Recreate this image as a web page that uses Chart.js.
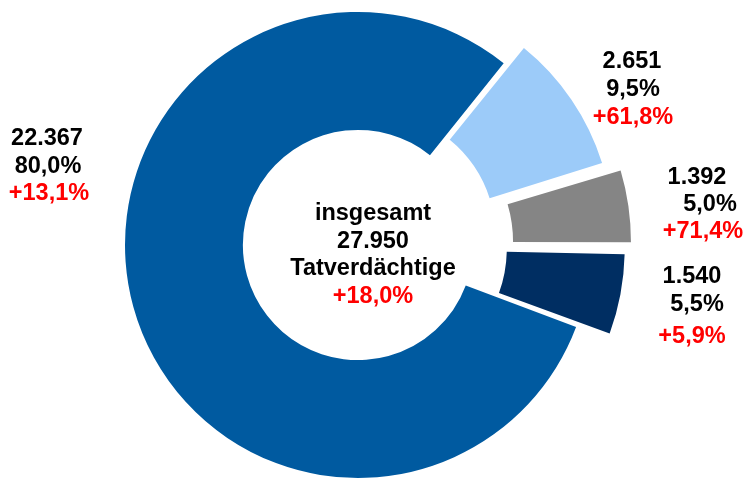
<!DOCTYPE html>
<html>
<head>
<meta charset="utf-8">
<script src="https://cdn.jsdelivr.net/npm/chart.js@4/dist/chart.umd.min.js"></script>
<style>
  html, body { margin: 0; padding: 0; background: #fff; overflow: hidden; }
  #wrap { width: 746px; height: 479px; }
</style>
</head>
<body>
<div id="wrap"><canvas id="pieChart" width="746" height="479"></canvas></div>
<script>
// Tatverdächtige nach Gruppen (Reihenfolge im Uhrzeigersinn ab dem hellblauen Segment)
const counts = [2651, 1392, 1540, 22367];
const changes = [61.8, 71.4, 5.9, 13.1];
const totalChange = 18.0;
const centerWords = ['insgesamt', 'Tatverdächtige'];

const colors = ['#9ccbf9', '#858585', '#002e62', '#005aa0'];
// Chart.js verschiebt nur um offset/4 (+ etwas radial), daher grosse Werte
const explode = [70, 95, 82, 0];

// Lage der Beschriftungen (Mitte x, Grundlinie y je Zeile)
const labelPos = [
  [[632, 68], [633, 96], [633, 124]],
  [[697, 184], [710, 211], [703, 238]],
  [[692, 283], [697, 311], [692, 343]],
  [[47, 145], [48, 173], [49, 200]]
];
const centerPos = [373, 220, 27.6];

const total = counts.reduce((a, b) => a + b, 0);
const fmtNum = n => String(n).replace(/\B(?=(\d{3})+(?!\d))/g, '.');
const fmtPct = v => v.toFixed(1).replace('.', ',') + '%';

const labelPlugin = {
  id: 'labelPlugin',
  afterDraw(chart) {
    const ctx = chart.ctx;
    ctx.save();
    ctx.font = 'bold 23.5px "Liberation Sans", Arial, sans-serif';
    ctx.textAlign = 'center';
    ctx.textBaseline = 'alphabetic';
    counts.forEach((c, i) => {
      const lines = [
        [fmtNum(c), '#000'],
        [fmtPct(c / total * 100), '#000'],
        ['+' + fmtPct(changes[i]), '#ff0000']
      ];
      lines.forEach((l, j) => {
        ctx.fillStyle = l[1];
        ctx.fillText(l[0], labelPos[i][j][0], labelPos[i][j][1]);
      });
    });
    const cx = centerPos[0], y0 = centerPos[1], lh = centerPos[2];
    const center = [
      [centerWords[0], '#000'],
      [fmtNum(total), '#000'],
      [centerWords[1], '#000'],
      ['+' + fmtPct(totalChange), '#ff0000']
    ];
    center.forEach((l, j) => {
      ctx.fillStyle = l[1];
      ctx.fillText(l[0], cx, y0 + j * lh);
    });
    ctx.restore();
  }
};

new Chart(document.getElementById('pieChart'), {
  type: 'doughnut',
  data: {
    labels: counts.map(fmtNum),
    datasets: [{
      data: counts,
      backgroundColor: colors,
      borderWidth: 0,
      offset: explode,
      hoverOffset: 0
    }]
  },
  options: {
    responsive: false,
    animation: false,
    rotation: 38.7,
    radius: 233,
    cutout: '49.4%',
    layout: { padding: { left: 0, right: 30, top: 11, bottom: 0 } },
    plugins: {
      legend: { display: false },
      tooltip: { enabled: false }
    }
  },
  plugins: [labelPlugin]
});
</script>
</body>
</html>
